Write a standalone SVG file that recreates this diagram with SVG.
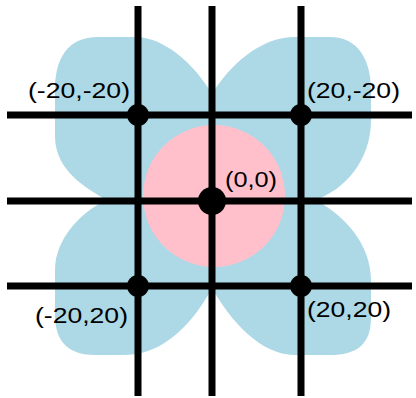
<svg xmlns="http://www.w3.org/2000/svg" width="416" height="398" viewBox="0 0 416 398">
  <style>
    .grid { stroke: #000; stroke-width: 7; fill: none; }
    .dot { fill: #000; }
    .lbl { font-family: "Liberation Sans", Arial, sans-serif; font-size: 22px; fill: #000; }
  </style>
  <rect width="416" height="398" fill="#fff"/>
  <g id="background">
    <path id="petals" fill="#ADD8E6" d="M107,200 C85,188 56,170 55,138 L55,90 C55,58 68,37 98,37 L135,37 C165,37 195,65 212,94 C230,65 260,37 295,37 L330,37 C358,37 371,60 371,90 L371,120 C371,160 345,190 315,200 C345,215 371,245 371,280 L371,318 C371,345 356,355 330,355 L295,355 C260,355 230,320 212,288 C195,320 165,355 125,355 L95,355 C70,355 55,343 55,315 L55,270 C55,240 80,212 107,200 Z"/>
    <circle id="disc" cx="214" cy="196" r="71" fill="#FFC0CB"/>
  </g>
  <g id="connectors" class="grid">
    <line x1="138" y1="6" x2="138" y2="396"/>
    <line x1="212" y1="6" x2="212" y2="396"/>
    <line x1="301" y1="6" x2="301" y2="396"/>
    <line x1="7" y1="115" x2="412" y2="115"/>
    <line x1="7" y1="201" x2="412" y2="201"/>
    <line x1="7" y1="286" x2="412" y2="286"/>
  </g>
  <g id="node-m20-m20">
    <circle class="dot" cx="138" cy="115" r="11"/>
    <text class="lbl" x="28" y="97.5" textLength="102" lengthAdjust="spacingAndGlyphs">(-20,-20)</text>
  </g>
  <g id="node-20-m20">
    <circle class="dot" cx="301" cy="115" r="11"/>
    <text class="lbl" x="307" y="98" textLength="93" lengthAdjust="spacingAndGlyphs">(20,-20)</text>
  </g>
  <g id="node-0-0">
    <circle class="dot" cx="212" cy="201" r="14"/>
    <text class="lbl" x="225" y="187" textLength="52" lengthAdjust="spacingAndGlyphs">(0,0)</text>
  </g>
  <g id="node-m20-20">
    <circle class="dot" cx="138" cy="286" r="11"/>
    <text class="lbl" x="35" y="323" textLength="93" lengthAdjust="spacingAndGlyphs">(-20,20)</text>
  </g>
  <g id="node-20-20">
    <circle class="dot" cx="301" cy="286" r="11"/>
    <text class="lbl" x="307" y="317" textLength="84" lengthAdjust="spacingAndGlyphs">(20,20)</text>
  </g>
</svg>
